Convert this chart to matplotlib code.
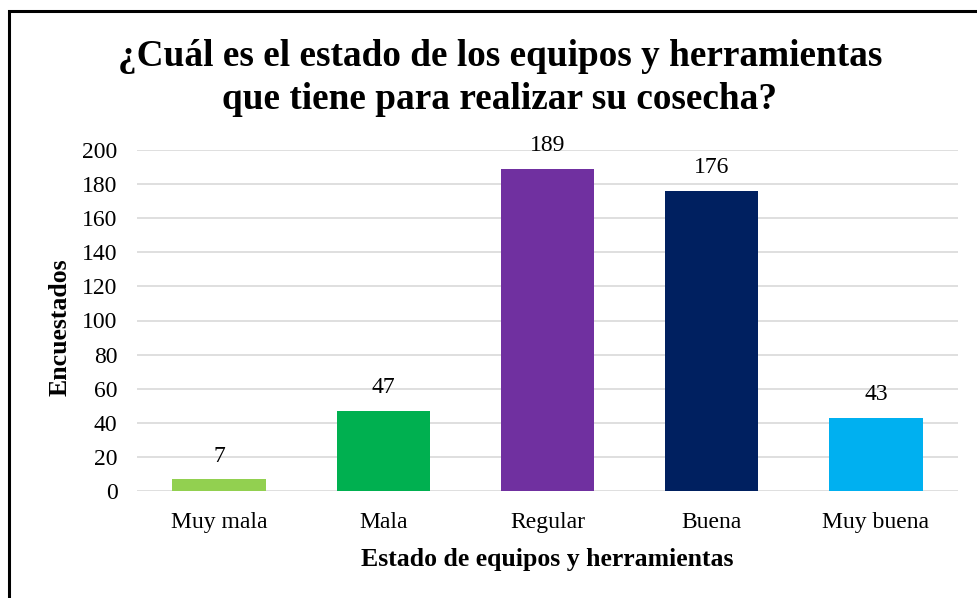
import matplotlib.pyplot as plt
from matplotlib.patches import Rectangle

categories = ["Muy mala", "Mala", "Regular", "Buena", "Muy buena"]
encuestados = [7, 47, 189, 176, 43]
bar_colors = ["#92D050", "#00B050", "#7030A0", "#002060", "#00B0F0"]
yticks = [0, 20, 40, 60, 80, 100, 120, 140, 160, 180, 200]

plt.rcParams['font.family'] = ['Liberation Serif', 'DejaVu Serif']

fig = plt.figure(figsize=(9.77, 5.98), dpi=100)
ax = fig.add_axes([137/977, 1 - 491/598, 821/977, 341/598])

# Create bars
x = range(len(categories))
bars = ax.bar(x, encuestados, width=0.57, color=bar_colors, zorder=2)

# Value labels above bars
for rect, val in zip(bars, encuestados):
    ax.annotate(str(val), (rect.get_x() + rect.get_width() / 2, rect.get_height()),
                xytext=(0, 9), textcoords="offset points",
                ha="center", va="bottom", fontsize=17)

ax.set_xlim(-0.5, 4.5)
ax.set_ylim(0, 200)
ax.set_yticks(yticks)
ax.set_xticks(list(x))
ax.set_xticklabels(categories)
ax.tick_params(axis="both", length=0, labelsize=17)
ax.tick_params(axis="y", pad=14)
ax.tick_params(axis="x", pad=15)
ax.grid(axis="y", color="#D9D9D9", linewidth=1.2, zorder=0)
for s in ax.spines.values():
    s.set_visible(False)

ax.set_xlabel("Estado de equipos y herramientas", fontsize=18.5, fontweight="bold", labelpad=11)
ax.set_ylabel("Encuestados", fontsize=18.5, fontweight="bold", va="center")
ax.yaxis.set_label_coords(-0.094, 0.48)

# Title
fig.text(500/977, 1 - 78/598, "¿Cuál es el estado de los equipos y herramientas\nque tiene para realizar su cosecha?",
         ha="center", va="center", fontsize=26.8, fontweight="bold", linespacing=1.3)

# Chart border
fig.patches.append(Rectangle((9/977, -0.1), 1.2, 1 - 11/598 + 0.1, transform=fig.transFigure,
                             fill=False, edgecolor="black", linewidth=2.2))

plt.savefig("out.png", dpi=100)
